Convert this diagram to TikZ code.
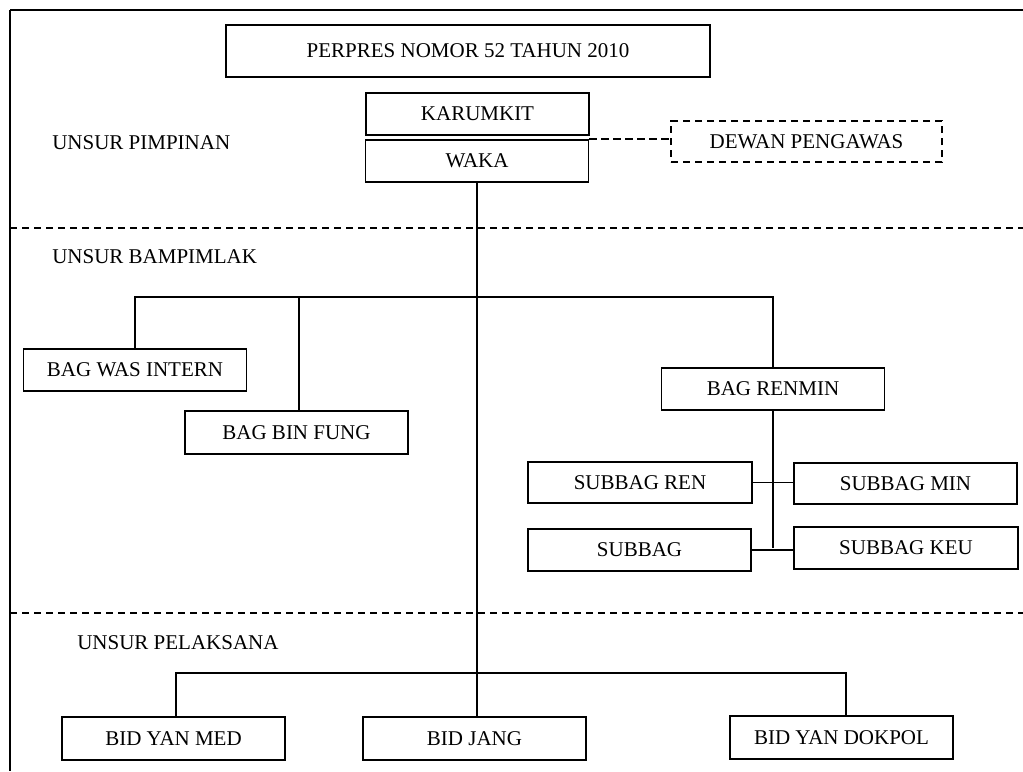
\documentclass[tikz,border=0pt]{standalone}
\usepackage{fontspec}
\setmainfont{Liberation Serif}
\usetikzlibrary{positioning}

\begin{document}
\begin{tikzpicture}[
    x=0.75pt, y=-0.75pt,
    unit/.style={rectangle, draw, line width=1.2pt, minimum width=167.25pt, minimum height=31.5pt,
                 inner sep=0pt, align=center, font=\fontsize{15.75}{19}\selectfont},
    lbl/.style={anchor=west, inner sep=0pt, font=\fontsize{15.75}{19}\selectfont},
    link/.style={line width=1.2pt},
    divider/.style={line width=1.2pt, dash pattern=on 5.5pt off 3.5pt}
]
    \useasboundingbox (0,0) rectangle (1023,771);
    \draw[line width=1.8pt] (1023,10) -- (10,10);
    \draw[link] (10,10) -- (10,771);
    \draw[divider] (10,228) -- (1023,228);
    \draw[divider] (10,613) -- (1023,613);

    \node[unit, minimum width=363pt, minimum height=39pt] (perpres) at (468,51) {PERPRES NOMOR 52 TAHUN 2010};
    \node[unit] (karumkit) at (477.5,114) {KARUMKIT};
    \node[unit] (waka) at (477,161) {WAKA};
    \node[unit, dash pattern=on 5.5pt off 3.5pt, minimum width=203.25pt, minimum height=30.75pt] (dewan) at (806.5,141.5) {DEWAN PENGAWAS};

    \node[unit] (wasintern) at (135,370) {BAG WAS INTERN};
    \node[unit, minimum height=32.25pt] (binfung) at (296.5,432.5) {BAG BIN FUNG};
    \node[unit] (renmin) at (773,389) {BAG RENMIN};
    \node[unit, minimum width=168pt, minimum height=30.75pt] (subren) at (640,482.5) {SUBBAG REN};
    \node[unit, minimum height=30.75pt] (submin) at (905.5,483.5) {SUBBAG MIN};
    \node[unit] (subbag) at (639.5,550) {SUBBAG};
    \node[unit, minimum width=168pt] (subkeu) at (906,548) {SUBBAG KEU};

    \node[unit, minimum height=32.25pt] (yanmed) at (173.5,738.5) {BID YAN MED};
    \node[unit, minimum height=32.25pt] (jang) at (474.5,738.5) {BID JANG};
    \node[unit, minimum height=32.25pt] (dokpol) at (841.5,737.5) {BID YAN DOKPOL};

    \node[lbl] (pimpinan) at (52,143) {UNSUR PIMPINAN};
    \node[lbl] (bampimlak) at (52,257) {UNSUR BAMPIMLAK};
    \node[lbl] (pelaksana) at (77,643) {UNSUR PELAKSANA};

    \coordinate (topbus) at (478,297);
    \coordinate (lowbus) at (478,673);
    \draw[divider] (waka.north east) -- (waka.north east -| dewan.west);
    \draw[link] (waka.south) -- (waka.south |- jang.north);
    \draw[link] (wasintern.north) |- (topbus) -| (renmin.north);
    \draw[link] ([xshift=1.9pt]binfung.north) -- ([xshift=1.9pt]binfung.north |- topbus);
    \draw[link] (renmin.south) -- (renmin.south |- subkeu.west);
    \draw[link] (subren.east) -- (subren.east -| submin.west);
    \draw[link] (subbag.east) -- (subbag.east -| subkeu.west);
    \draw[link] ([xshift=1.9pt]yanmed.north) |- (lowbus) -| ([xshift=3.4pt]dokpol.north);
\end{tikzpicture}
\end{document}
